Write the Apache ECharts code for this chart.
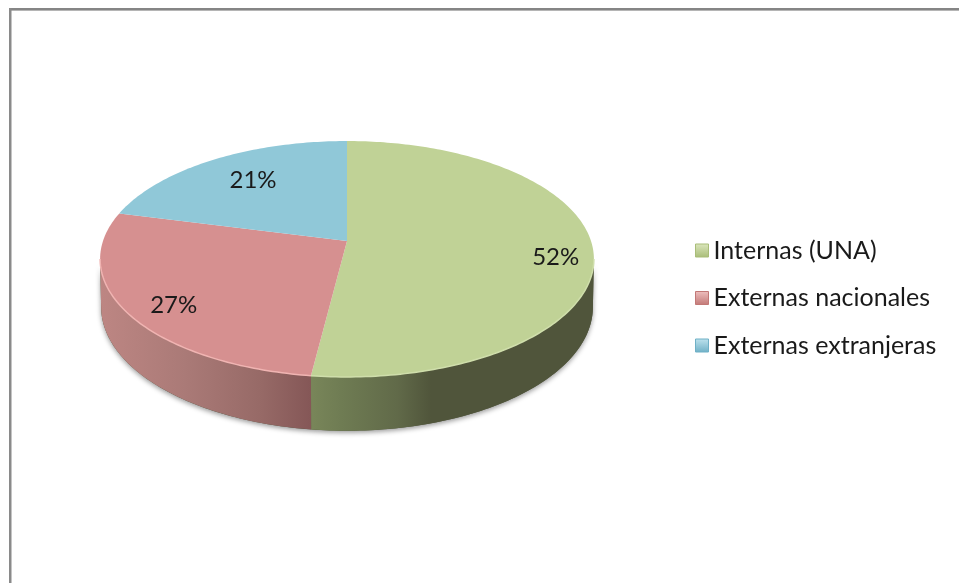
<!DOCTYPE html>
<html>
<head>
<meta charset="utf-8">
<style>html,body{margin:0;padding:0;background:#fff}#c{width:959px;height:583px}</style>
<script src="https://cdn.jsdelivr.net/npm/echarts@6/dist/echarts.min.js"></script>
</head>
<body>
<div id="c"></div>
<script>
const categories = ['Internas (UNA)', 'Externas nacionales', 'Externas extranjeras'];
const values = [52, 27, 21];

// Layout and style, separate from the data
const topColors = ['#c0d296', '#d69090', '#90c8d8'];
const rimColors = ['#cfdeab', '#f0b4b2', '#a4d4e2'];
const wallStops = [
  [[0, '#788559'], [0.1, '#6f7c53'], [0.3, '#616a49'], [0.42, '#50553b'], [1, '#50553b']],
  [[0, '#bd8683'], [0.4, '#aa7a77'], [0.75, '#976a67'], [1, '#845656']],
  [[0, '#6f9aa8'], [1, '#6f9aa8']]
];
const wallSpans = [[313, 594], [100, 313], [100, 313]];
const legendFill = [
  ['#dbe6bd', '#a9bd78'], ['#eec0bf', '#c27876'], ['#bfe3ee', '#6fb0c6']
];
const labelRadius = [0.85, 0.8, 0.68];
const labelShift = [10, 9, -4];
const pie = {cx: 347, cy: 241, a: 115.2, b: 244, k: 0.1525};
const base = {cx: 347, cy: 288, a: 121, b: 243, k: 0.1525};
const sideRight = Math.acos(-pie.k) * 180 / Math.PI;
const sideLeft = 360 - sideRight;

const total = values.reduce((s, v) => s + v, 0);
const startOf = i => values.slice(0, i).reduce((s, v) => s + v, 0) / total * 360;

function project(g, deg, r) {
  const t = deg * Math.PI / 180;
  const u = Math.sin(t) * r, v = -Math.cos(t) * r;
  const w = 1 - g.k * v;
  return [g.cx + g.b * u / w, g.cy + g.a * v / w];
}
function arc(g, from, to) {
  const pts = [];
  const n = Math.max(2, Math.ceil(Math.abs(to - from)));
  for (let j = 0; j <= n; j++) pts.push(project(g, from + (to - from) * j / n, 1));
  return pts;
}

function renderSlice(params) {
  const i = params.seriesIndex;
  const from = startOf(i), to = from + values[i] / total * 360;
  const children = [];

  if (i === 0) {
    const sil = arc(base, sideRight, sideLeft).concat(arc(pie, sideLeft, sideRight));
    children.push({
      type: 'polygon', shape: {points: sil}, silent: true,
      style: {fill: '#50553b', shadowBlur: 5, shadowColor: 'rgba(0,0,0,0.4)', shadowOffsetY: 2, shadowOffsetX: 0}
    });
  }

  const wf = Math.max(from, sideRight), wt = Math.min(to, sideLeft);
  if (wt > wf) {
    const span = wallSpans[i];
    children.push({
      type: 'polygon', silent: true,
      shape: {points: arc(pie, wf, wt).concat(arc(base, wt, wf))},
      style: {fill: new echarts.graphic.LinearGradient(span[0], 0, span[1], 0,
        wallStops[i].map(s => ({offset: s[0], color: s[1]})), true)}
    });
  }

  const topPts = [project(pie, 0, 0)].concat(arc(pie, from, to));
  children.push({type: 'polygon', shape: {points: topPts}, style: {fill: topColors[i]}});

  const rf = Math.max(from, sideRight), rt = Math.min(to, sideLeft);
  if (rt > rf) {
    children.push({
      type: 'polyline', silent: true, shape: {points: arc(pie, rf, rt)},
      style: {stroke: rimColors[i], lineWidth: 1.5, fill: null}
    });
  }

  const mid = (from + to) / 2;
  const lp = project(pie, mid, labelRadius[i]);
  children.push({
    type: 'text', silent: true, z2: 10,
    style: {
      x: lp[0], y: lp[1] + labelShift[i],
      text: Math.round(values[i] / total * 100) + '%',
      fill: '#1a1a1a', font: '24px Lato', align: 'center', verticalAlign: 'middle'
    }
  });
  return {type: 'group', children};
}

const chart = echarts.init(document.getElementById('c'), null, {renderer: 'canvas'});
chart.setOption({
  animation: false,
  backgroundColor: '#ffffff',
  legend: {
    orient: 'vertical',
    left: 690,
    top: 233,
    padding: 5,
    itemWidth: 13,
    itemHeight: 13,
    itemGap: 22.5,
    icon: 'rect',
    textStyle: {fontFamily: 'Lato', fontSize: 25, color: '#1a1a1a'},
    data: categories.map((name, i) => ({
      name,
      itemStyle: {
        color: new echarts.graphic.LinearGradient(0, 0, 0, 1, [
          {offset: 0, color: legendFill[i][0]}, {offset: 1, color: legendFill[i][1]}
        ]),
        borderColor: legendFill[i][1], borderWidth: 1
      }
    }))
  },
  graphic: [
    {type: 'rect', silent: true, shape: {x: 9, y: 8, width: 950, height: 2}, style: {fill: '#858585'}},
    {type: 'rect', silent: true, shape: {x: 9, y: 10, width: 950, height: 1}, style: {fill: '#b5b5b5'}},
    {type: 'rect', silent: true, shape: {x: 9, y: 8, width: 2.5, height: 575}, style: {fill: '#8a8a8a'}}
  ],
  series: categories.map((name, i) => ({
    type: 'custom',
    name,
    coordinateSystem: 'none',
    renderItem: renderSlice,
    itemStyle: {color: topColors[i]},
    data: [[values[i]]]
  }))
});
</script>
</body>
</html>
